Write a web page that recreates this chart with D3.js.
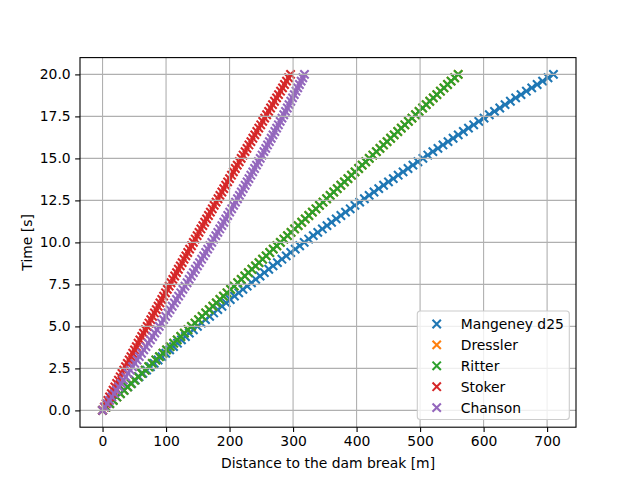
<!DOCTYPE html>
<html>
<head>
<meta charset="utf-8">
<script src="https://cdn.jsdelivr.net/npm/d3@7"></script>
<style>
  body { margin: 0; background: #fff; }
  text { font-family: "DejaVu Sans", sans-serif; fill: #000; }
</style>
</head>
<body>
<div id="chart" style="width:640px;height:480px"></div>
<script>
// time samples (s)
const time = [0,0.2,0.4,0.6,0.8,1,1.2,1.4,1.6,1.8,2,2.2,2.4,2.6,2.8,3,3.2,3.4,3.6,3.8,
  4,4.2,4.4,4.6,4.8,5,5.2,5.4,5.6,5.8,6,6.2,6.4,6.6,6.8,7,7.2,7.4,7.6,7.8,
  8,8.2,8.4,8.6,8.8,9,9.2,9.4,9.6,9.8,10,10.2,10.4,10.6,10.8,11,11.2,11.4,11.6,11.8,
  12,12.2,12.4,12.6,12.8,13,13.2,13.4,13.6,13.8,14,14.2,14.4,14.6,14.8,15,15.2,15.4,15.6,15.8,
  16,16.2,16.4,16.6,16.8,17,17.2,17.4,17.6,17.8,18,18.2,18.4,18.6,18.8,19,19.2,19.4,19.6,19.8,20];

// front position (m) for each solution
const mangeney = [0,5.6,11.3,16.9,22.6,28.4,34.1,39.9,45.8,51.6,57.5,63.4,69.4,75.3,81.3,87.4,93.4,99.5,105.7,111.8,
  118,124.2,130.5,136.7,143,149.4,155.7,162.1,168.6,175,181.5,188,194.6,201.1,207.7,214.4,221,227.7,234.5,241.2,
  248,254.8,261.7,268.5,275.4,282.4,289.3,296.3,303.4,310.4,317.5,324.6,331.8,338.9,346.1,353.4,360.6,367.9,375.3,382.6,
  390,397.4,404.9,412.3,419.8,427.4,434.9,442.5,450.2,457.8,465.5,473.2,481,488.7,496.5,504.4,512.2,520.1,528.1,536,
  544,552,560.1,568.1,576.2,584.4,592.5,600.7,609,617.2,625.5,633.8,642.2,650.5,658.9,667.4,675.8,684.3,692.9,701.4,710];

const dressler = [0,5.6,11.2,16.8,22.4,28,33.6,39.2,44.8,50.4,56,61.6,67.2,72.8,78.4,84,89.6,95.2,100.8,106.4,
  112,117.6,123.2,128.8,134.4,140,145.6,151.2,156.8,162.4,168,173.6,179.2,184.8,190.4,196,201.6,207.2,212.8,218.4,
  224,229.6,235.2,240.8,246.4,252,257.6,263.2,268.8,274.4,280,285.6,291.2,296.8,302.4,308,313.6,319.2,324.8,330.4,
  336,341.6,347.2,352.8,358.4,364,369.6,375.2,380.8,386.4,392,397.6,403.2,408.8,414.4,420,425.6,431.2,436.8,442.4,
  448,453.6,459.2,464.8,470.4,476,481.6,487.2,492.8,498.4,504,509.6,515.2,520.8,526.4,532,537.6,543.2,548.8,554.4,560];

const ritter = [0,5.6,11.2,16.8,22.4,28,33.6,39.2,44.8,50.4,56,61.6,67.2,72.8,78.4,84,89.6,95.2,100.8,106.4,
  112,117.6,123.2,128.8,134.4,140,145.6,151.2,156.8,162.4,168,173.6,179.2,184.8,190.4,196,201.6,207.2,212.8,218.4,
  224,229.6,235.2,240.8,246.4,252,257.6,263.2,268.8,274.4,280,285.6,291.2,296.8,302.4,308,313.6,319.2,324.8,330.4,
  336,341.6,347.2,352.8,358.4,364,369.6,375.2,380.8,386.4,392,397.6,403.2,408.8,414.4,420,425.6,431.2,436.8,442.4,
  448,453.6,459.2,464.8,470.4,476,481.6,487.2,492.8,498.4,504,509.6,515.2,520.8,526.4,532,537.6,543.2,548.8,554.4,560];

const stoker = [0,2.8,5.5,8.3,11.1,13.9,16.6,19.4,22.2,25,27.8,30.6,33.4,36.2,39,41.9,44.7,47.5,50.3,53.2,
  56,58.8,61.7,64.5,67.4,70.3,73.1,76,78.8,81.7,84.6,87.5,90.4,93.3,96.2,99.1,102,104.9,107.8,110.7,
  113.6,116.5,119.4,122.4,125.3,128.3,131.2,134.1,137.1,140,143,146,148.9,151.9,154.9,157.9,160.8,163.8,166.8,169.8,
  172.8,175.8,178.8,181.8,184.8,187.9,190.9,193.9,196.9,200,203,206,209.1,212.1,215.2,218.3,221.3,224.4,227.4,230.5,
  233.6,236.7,239.8,242.9,246,249.1,252.2,255.3,258.4,261.5,264.6,267.7,270.8,274,277.1,280.3,283.4,286.5,289.7,292.8,296];

const chanson = [0,3.7,7.4,11.1,14.7,18.4,22,25.6,29.3,32.9,36.5,40.1,43.7,47.2,50.8,54.3,57.9,61.4,64.9,68.4,
  71.9,75.4,78.9,82.3,85.8,89.3,92.7,96.1,99.5,102.9,106.3,109.7,113.1,116.4,119.8,123.1,126.5,129.8,133.1,136.4,
  139.7,143,146.2,149.5,152.7,156,159.2,162.4,165.6,168.8,172,175.2,178.3,181.5,184.6,187.8,190.9,194,197.1,200.2,
  203.3,206.4,209.4,212.5,215.5,218.5,221.5,224.6,227.6,230.5,233.5,236.5,239.4,242.4,245.3,248.3,251.2,254.1,257,259.8,
  262.7,265.6,268.4,271.3,274.1,276.9,279.7,282.5,285.3,288.1,290.9,293.6,296.4,299.1,301.9,304.6,307.3,310,312.7,315.3,318];

const seriesNames = ["Mangeney d25", "Dressler", "Ritter", "Stoker", "Chanson"];
const seriesValues = [mangeney, dressler, ritter, stoker, chanson];
const colors = ["#1f77b4", "#ff7f0e", "#2ca02c", "#d62728", "#9467bd"];

const xTicks = [0, 100, 200, 300, 400, 500, 600, 700];
const yTicks = [0, 2.5, 5, 7.5, 10, 12.5, 15, 17.5, 20];

const width = 640;
const height = 480;
const marginLeft = 80;
const marginRight = 64;
const marginTop = 57.6;
const marginBottom = 52.8;
const chartWidth = width - marginLeft - marginRight;
const chartHeight = height - marginTop - marginBottom;

// matplotlib style 5% padding
const xMax = d3.max(seriesValues, (s) => d3.max(s));
const xPad = 0.05 * xMax;
const xScale = d3.scaleLinear().domain([-xPad, xMax + xPad]).range([0, chartWidth]);
const yScale = d3.scaleLinear().domain([-1, 21]).range([chartHeight, 0]);

const svg = d3.select("#chart").append("svg")
  .attr("width", width)
  .attr("height", height);

const g = svg.append("g")
  .attr("transform", `translate(${marginLeft}, ${marginTop})`);

g.append("defs").append("clipPath").attr("id", "clip")
  .append("rect").attr("width", chartWidth).attr("height", chartHeight);

// markers
const xMark = "M-4.17,-4.17L4.17,4.17M-4.17,4.17L4.17,-4.17";
const marks = g.append("g").attr("clip-path", "url(#clip)");
seriesValues.forEach((vals, i) => {
  marks.append("g")
    .selectAll("path")
    .data(vals.map((v, j) => ({ x: v, t: time[j] })))
    .join("path")
    .attr("d", xMark)
    .attr("transform", (d) => `translate(${xScale(d.x)}, ${yScale(d.t)})`)
    .attr("fill", "none")
    .attr("stroke", colors[i])
    .attr("stroke-width", 2.08);
});

// grid (drawn over the markers like matplotlib)
const grid = g.append("g");
grid.selectAll(".gx").data(xTicks).join("line")
  .attr("x1", (d) => xScale(d)).attr("x2", (d) => xScale(d))
  .attr("y1", 0).attr("y2", chartHeight)
  .attr("stroke", "#b0b0b0").attr("stroke-width", 1.1);
grid.selectAll(".gy").data(yTicks).join("line")
  .attr("y1", (d) => yScale(d)).attr("y2", (d) => yScale(d))
  .attr("x1", 0).attr("x2", chartWidth)
  .attr("stroke", "#b0b0b0").attr("stroke-width", 1.1);

// axes
const xaxis = d3.axisBottom(xScale).tickValues(xTicks).tickSize(4.86).tickPadding(4.5).tickFormat(d3.format("d"));
const yaxis = d3.axisLeft(yScale).tickValues(yTicks).tickSize(4.86).tickPadding(4.5).tickFormat(d3.format(".1f"));

const gx = g.append("g").attr("transform", `translate(0, ${chartHeight})`).call(xaxis);
const gy = g.append("g").call(yaxis);
[gx, gy].forEach((a) => {
  a.select(".domain").remove();
  a.selectAll("line").attr("stroke", "#000").attr("stroke-width", 1.1);
  a.selectAll("text").attr("font-size", 13.9).attr("font-family", "DejaVu Sans").attr("fill", "#000");
});

g.append("rect")
  .attr("width", chartWidth).attr("height", chartHeight)
  .attr("fill", "none").attr("stroke", "#000").attr("stroke-width", 1.1);

svg.append("text")
  .attr("x", marginLeft + chartWidth / 2)
  .attr("y", 468)
  .attr("text-anchor", "middle")
  .attr("font-size", 13.9)
  .text("Distance to the dam break [m]");

svg.append("text")
  .attr("transform", `translate(32, ${marginTop + chartHeight / 2}) rotate(-90)`)
  .attr("text-anchor", "middle")
  .attr("font-size", 13.9)
  .text("Time [s]");

// legend
const legend = svg.append("g").attr("transform", "translate(417.3, 311)");
legend.append("rect")
  .attr("width", 152).attr("height", 108.5)
  .attr("rx", 3).attr("ry", 3)
  .attr("fill", "#fff").attr("fill-opacity", 0.8)
  .attr("stroke", "#cccccc").attr("stroke-width", 1.1);

const rows = legend.selectAll(".row").data(seriesNames).join("g")
  .attr("transform", (d, i) => `translate(0, ${13 + i * 20.9})`);
rows.append("path")
  .attr("d", xMark)
  .attr("transform", "translate(19.4, 0)")
  .attr("fill", "none")
  .attr("stroke", (d, i) => colors[i])
  .attr("stroke-width", 2.08);
rows.append("text")
  .attr("x", 43.4)
  .attr("y", 5)
  .attr("font-size", 13.9)
  .text((d) => d);
</script>
</body>
</html>
